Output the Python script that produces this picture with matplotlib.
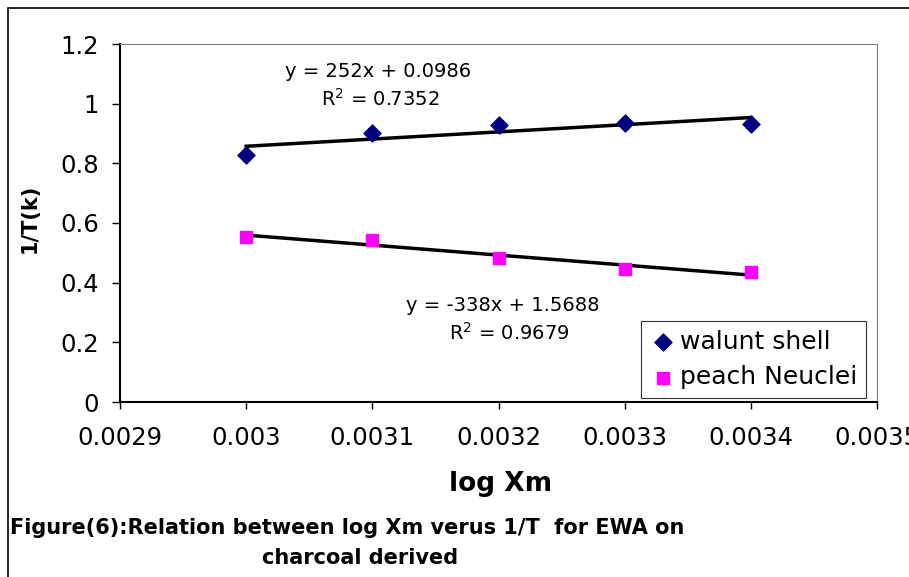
import numpy as np
import matplotlib.pyplot as plt
from matplotlib.patches import Rectangle

plt.rcParams['font.family'] = ['DejaVu Sans']

# data
log_xm = [0.0030, 0.0031, 0.0032, 0.0033, 0.0034]
walnut = [0.828, 0.903, 0.929, 0.934, 0.933]
peach = [0.554, 0.543, 0.484, 0.446, 0.435]
x_ticks = [0.0029, 0.003, 0.0031, 0.0032, 0.0033, 0.0034, 0.0035]
x_tick_labels = ['0.0029', '0.003', '0.0031', '0.0032', '0.0033', '0.0034', '0.0035']
y_ticks = [0, 0.2, 0.4, 0.6, 0.8, 1, 1.2]
y_tick_labels = ['0', '0.2', '0.4', '0.6', '0.8', '1', '1.2']

W, H = 909, 577
fig = plt.figure(figsize=(W / 100, H / 100), dpi=100)
ax = fig.add_axes([120 / W, 1 - 402 / H, (877 - 120) / W, (402 - 44) / H])

ax.scatter(log_xm, walnut, marker='D', s=75, color='#000080', label='walunt shell', zorder=3)
ax.scatter(log_xm, peach, marker='s', s=70, color='#FF00FF', label='peach Neuclei', zorder=3)

# linear trend lines
xs = np.array(log_xm)
for ys in (walnut, peach):
    k, b = np.polyfit(xs, ys, 1)
    ax.plot(xs[[0, -1]], k * xs[[0, -1]] + b, color='black', lw=2.5, zorder=2)

ax.text(0.0031045, 1.108, 'y = 252x + 0.0986', fontsize=14, ha='center', va='center')
ax.text(0.003106, 1.015, 'R$^2$ = 0.7352', fontsize=14, ha='center', va='center')
ax.text(0.0032036, 0.325, 'y = -338x + 1.5688', fontsize=14, ha='center', va='center')
ax.text(0.0032083, 0.232, 'R$^2$ = 0.9679', fontsize=14, ha='center', va='center')

ax.set_xlim(0.0029, 0.0035)
ax.set_ylim(0, 1.2)
ax.set_xticks(x_ticks)
ax.set_xticklabels(x_tick_labels, fontsize=17.5)
ax.set_yticks(y_ticks)
ax.set_yticklabels(y_tick_labels, fontsize=17.5)
ax.tick_params(axis='y', direction='out', length=6, width=1, pad=9)
ax.tick_params(axis='x', direction='out', length=5, width=1, pad=12)

for s in ('top', 'right'):
    ax.spines[s].set_color('#808080')
for s in ('left', 'bottom'):
    ax.spines[s].set_linewidth(1.5)

ax.set_ylabel('1/T(k)', fontsize=15, fontweight='bold')
ax.yaxis.set_label_coords(30 / W, 1 - 218 / H, transform=fig.transFigure)
ax.set_xlabel('log Xm', fontsize=19, fontweight='bold')
ax.xaxis.set_label_coords(501 / W, 1 - 484 / H, transform=fig.transFigure)
ax.xaxis.label.set_va('center')
ax.yaxis.label.set_va('center')

leg = ax.legend(loc='lower right', bbox_to_anchor=(866 / W, 1 - 398 / H),
                bbox_transform=fig.transFigure, fontsize=18,
                frameon=True, fancybox=False, edgecolor='black', handletextpad=0.2,
                handlelength=1.0, borderpad=0.35, labelspacing=0.45, borderaxespad=0)
leg.get_frame().set_linewidth(0.8)

fig.text(10 / W, 1 - 528 / H,
         'Figure(6):Relation between log Xm verus 1/T  for EWA on',
         fontsize=15, fontweight='bold', ha='left', va='center')
fig.text(360 / W, 1 - 558 / H, 'charcoal derived',
         fontsize=15, fontweight='bold', ha='center', va='center')

# outer chart border (cut off at right and bottom, as in the reference)
fig.patches.append(Rectangle((8 / W, -0.1), 1.1, 1 - 8 / H + 0.1,
                             transform=fig.transFigure, fill=False,
                             edgecolor='black', lw=1.2))

fig.savefig('out.png', dpi=100)
